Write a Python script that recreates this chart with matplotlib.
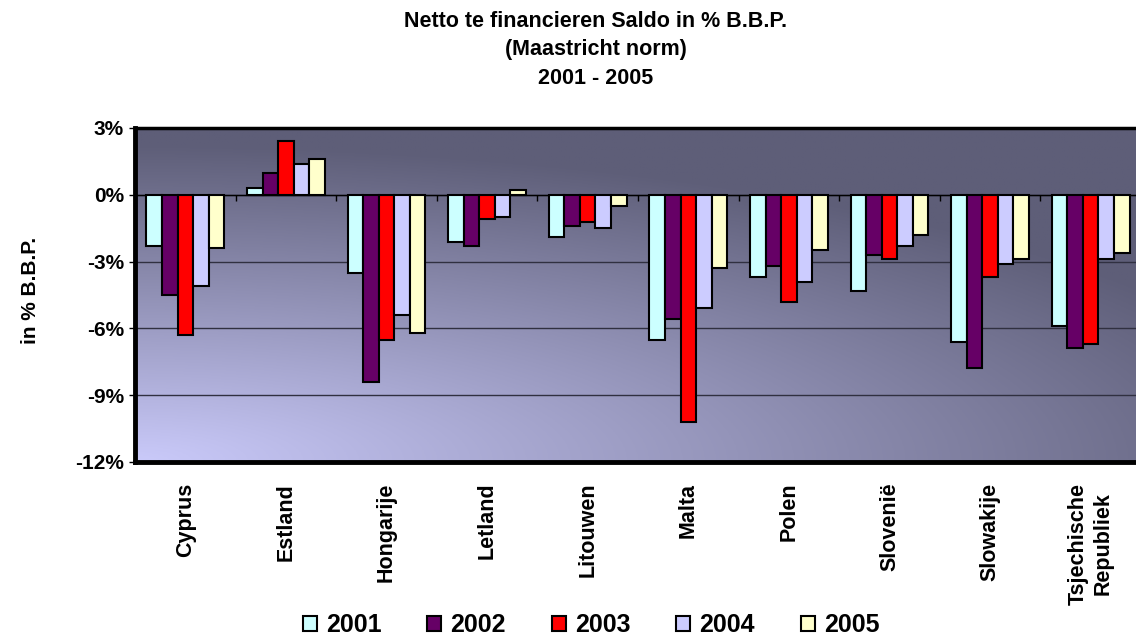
import matplotlib
matplotlib.use("Agg")
import matplotlib.pyplot as plt
import numpy as np
from matplotlib.ticker import FuncFormatter

plt.rcParams['font.family'] = ['Liberation Sans', 'DejaVu Sans']
plt.rcParams['font.weight'] = 'bold'

# data (% of GDP)
landen = ["Cyprus", "Estland", "Hongarije", "Letland", "Litouwen", "Malta",
          "Polen", "Slovenië", "Slowakije", "Tsjechische\nRepubliek"]
jaren = ["2001", "2002", "2003", "2004", "2005"]
s2001 = [-2.3, 0.3, -3.5, -2.1, -1.9, -6.5, -3.7, -4.3, -6.6, -5.9]
s2002 = [-4.5, 1.0, -8.4, -2.3, -1.4, -5.6, -3.2, -2.7, -7.8, -6.9]
s2003 = [-6.3, 2.4, -6.5, -1.1, -1.2, -10.2, -4.8, -2.9, -3.7, -6.7]
s2004 = [-4.1, 1.4, -5.4, -1.0, -1.5, -5.1, -3.9, -2.3, -3.1, -2.9]
s2005 = [-2.4, 1.6, -6.2, 0.2, -0.5, -3.3, -2.5, -1.8, -2.9, -2.6]
reeksen = [s2001, s2002, s2003, s2004, s2005]
kleuren = ["#ccffff", "#660066", "#ff0000", "#ccccff", "#ffffcc"]

fig = plt.figure(figsize=(11.36, 6.37), dpi=100)
ax = fig.add_axes([135/1136, 1-462/637, 1006/1136, 334/637])

# gradient background, light in the bottom-left corner
xs = np.linspace(0, 1, 400)
ys = np.linspace(1, 0, 200)
X, Y = np.meshgrid(xs, ys)
t = np.clip(np.hypot(X/1.2, Y/0.95), 0, 1)
licht = np.array([202, 202, 250]) / 255
donker = np.array([94, 94, 120]) / 255
img = licht*(1-t[..., None]) + donker*t[..., None]
ax.imshow(img, extent=[0, 1, 0, 1], transform=ax.transAxes, aspect='auto', zorder=0)

x = np.arange(len(landen))
w = 0.155
for i, (jaar, waarden) in enumerate(zip(jaren, reeksen)):
    ax.bar(x + (i-2)*w, waarden, w, color=kleuren[i], edgecolor='black',
           linewidth=1.5, zorder=3, label=jaar)

ax.set_xlim(-0.5, 9.5)
ax.set_ylim(-12, 3)
ax.set_yticks([3, 0, -3, -6, -9, -12])
ax.yaxis.set_major_formatter(FuncFormatter(lambda v, p: "%d%%" % v))
ax.tick_params(axis='y', direction='out', length=4, width=1, labelsize=15, pad=4)
ax.set_xticks(x)
ax.set_xticklabels(landen, rotation=90, fontsize=15.5)
ax.tick_params(axis='x', length=0, pad=15)

ax.grid(axis='y', color='#303040', linewidth=1, zorder=1)
ax.axhline(0, color='black', linewidth=1, zorder=2)
# category tick marks on the zero axis
ax.vlines(np.arange(0.5, 9.5, 1), 0, -0.3, color='black', linewidth=1, zorder=2)

for kant in ['left', 'bottom']:
    ax.spines[kant].set_linewidth(3.5)
ax.spines['top'].set_linewidth(2.5)
ax.spines['right'].set_visible(False)

fig.text(30/1136, 1-290/637, "in % B.B.P.", rotation=90, fontsize=15,
         ha='center', va='center')

titel = ["Netto te financieren Saldo in % B.B.P.", "(Maastricht norm)", "2001 - 2005"]
for k, regel in enumerate(titel):
    fig.text(596/1136, 1-(21.5+28.3*k)/637, regel, fontsize=15.5, ha='center', va='center')

fig.legend(loc='center', bbox_to_anchor=(591/1136, 1-625/637), ncol=5, frameon=False,
           fontsize=18, handlelength=0.56, handleheight=0.56, handletextpad=0.36,
           columnspacing=1.84)

plt.savefig("out.png", dpi=100)
